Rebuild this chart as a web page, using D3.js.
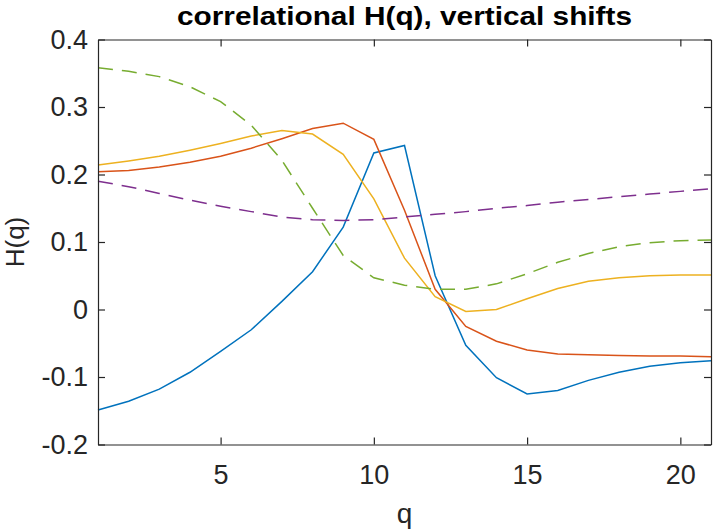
<!DOCTYPE html>
<html>
<head>
<meta charset="utf-8">
<script src="https://cdn.jsdelivr.net/npm/d3@7"></script>
<style>
  body { margin: 0; background: #fff; }
  text { font-family: "Liberation Sans", Arial, sans-serif; fill: #262626; }
</style>
</head>
<body>
<div id="chart"></div>
<script>
// q values and the five H(q) curves
var qValues = d3.range(1, 22);
var blueSeries = [-0.149, -0.136, -0.118, -0.093, -0.062, -0.030, 0.012, 0.056, 0.122, 0.232, 0.243,
  0.050, -0.053, -0.101, -0.125, -0.120, -0.105, -0.093, -0.084, -0.079, -0.076];
var redSeries = [0.204, 0.206, 0.211, 0.218, 0.227, 0.239, 0.253, 0.268, 0.276, 0.252, 0.147,
  0.030, -0.025, -0.047, -0.060, -0.066, -0.067, -0.068, -0.069, -0.069, -0.070];
var yellowSeries = [0.214, 0.220, 0.227, 0.236, 0.246, 0.257, 0.265, 0.260, 0.230, 0.164, 0.076,
  0.019, -0.003, 0.000, 0.016, 0.031, 0.042, 0.047, 0.050, 0.051, 0.051];
var greenSeries = [0.358, 0.353, 0.345, 0.330, 0.308, 0.273, 0.221, 0.150, 0.080, 0.047, 0.036,
  0.030, 0.030, 0.038, 0.053, 0.070, 0.083, 0.093, 0.099, 0.102, 0.103];
var purpleSeries = [0.190, 0.182, 0.172, 0.162, 0.153, 0.145, 0.137, 0.133, 0.132, 0.133, 0.137,
  0.141, 0.145, 0.150, 0.154, 0.159, 0.163, 0.167, 0.171, 0.175, 0.179];

var xTicks = [5, 10, 15, 20];
var yTicks = [-0.2, -0.1, 0, 0.1, 0.2, 0.3, 0.4];

var series = [
  { values: blueSeries, color: "#0072BD", dash: null },
  { values: redSeries, color: "#D95319", dash: null },
  { values: yellowSeries, color: "#EDB120", dash: null },
  { values: greenSeries, color: "#77AC30", dash: "15,9" },
  { values: purpleSeries, color: "#7E2F8E", dash: "15,9" }
];

const width = 713, height = 532;
const margin = { top: 39.5, right: 2, bottom: 87.5, left: 98 };
const innerW = width - margin.left - margin.right;
const innerH = height - margin.top - margin.bottom;

const svg = d3.select("#chart").append("svg")
  .attr("width", width)
  .attr("height", height);

const g = svg.append("g")
  .attr("transform", "translate(" + margin.left + "," + margin.top + ")");

var x = d3.scaleLinear().domain([1, 21]).range([0, innerW]);
var y = d3.scaleLinear().domain([-0.2, 0.4]).range([innerH, 0]);

// lines
var line = d3.line()
  .x((d, i) => x(qValues[i]))
  .y(d => y(d));

series.forEach(s => {
  g.append("path")
    .datum(s.values)
    .attr("fill", "none")
    .attr("stroke", s.color)
    .attr("stroke-width", 1.5)
    .attr("stroke-dasharray", s.dash)
    .attr("d", line);
});

// axes with inward ticks, box on
function styleAxis(sel) {
  sel.selectAll(".domain").attr("stroke", "#262626").attr("stroke-width", 1.2);
  sel.selectAll(".tick line").attr("stroke", "#262626").attr("stroke-width", 1.2);
}

var fmtY = d => d === 0 ? "0" : d3.format(".1f")(d).replace("−", "-");

g.append("g")
  .attr("transform", "translate(0," + innerH + ")")
  .call(d3.axisBottom(x).tickValues(xTicks).tickSize(-7).tickSizeOuter(0).tickPadding(20))
  .call(styleAxis)
  .selectAll("text").style("font-size", "27px").attr("fill", "#262626");

g.append("g")
  .call(d3.axisTop(x).tickValues(xTicks).tickSize(-7).tickSizeOuter(0).tickFormat(""))
  .call(styleAxis);

g.append("g")
  .call(d3.axisLeft(y).tickValues(yTicks).tickSize(-7).tickSizeOuter(0).tickPadding(10).tickFormat(fmtY))
  .call(styleAxis)
  .selectAll("text").style("font-size", "27px").attr("fill", "#262626");

g.append("g")
  .attr("transform", "translate(" + innerW + ",0)")
  .call(d3.axisRight(y).tickValues(yTicks).tickSize(-7).tickSizeOuter(0).tickFormat(""))
  .call(styleAxis);

// title and labels
svg.append("text")
  .attr("x", margin.left + innerW / 2)
  .attr("y", 25)
  .attr("text-anchor", "middle")
  .attr("textLength", 455)
  .attr("lengthAdjust", "spacingAndGlyphs")
  .style("font-size", "26px")
  .style("font-weight", "bold")
  .style("fill", "#000")
  .text("correlational H(q), vertical shifts");

svg.append("text")
  .attr("x", margin.left + innerW / 2)
  .attr("y", 523)
  .attr("text-anchor", "middle")
  .style("font-size", "28px")
  .text("q");

svg.append("text")
  .attr("transform", "translate(24," + (margin.top + innerH / 2) + ") rotate(-90)")
  .attr("text-anchor", "middle")
  .style("font-size", "26px")
  .text("H(q)");
</script>
</body>
</html>
